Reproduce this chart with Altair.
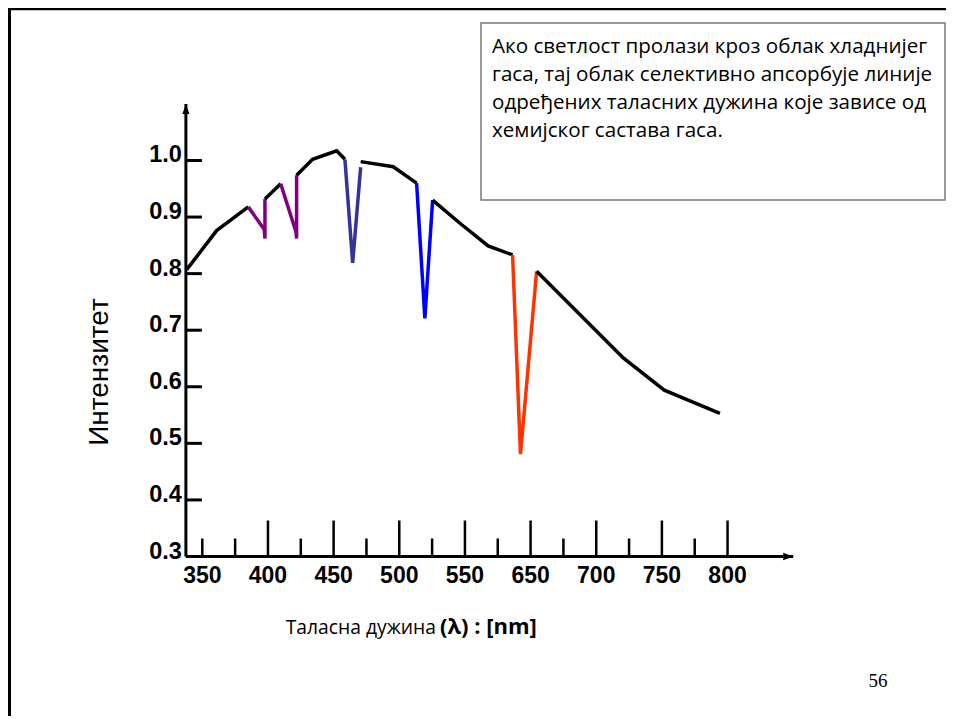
import altair as alt
import pandas as pd

# ---------------- data ----------------
# spectrum, split into drawn pieces (continuum in black, absorption lines coloured)
segment_names = ["cont1", "viol1", "cont2", "viol2", "cont3", "indigo",
                 "cont4", "blue", "cont5", "red", "cont6"]
segment_bands = ["continuum", "violet", "continuum", "violet", "continuum", "indigo",
                 "continuum", "blue", "continuum", "red", "continuum"]
segment_wavelengths = [
    [338.1, 360.9, 385.0],
    [385.0, 397.2, 397.7, 397.7],
    [397.7, 409.7],
    [409.7, 421.3, 421.8, 421.8],
    [421.8, 434.0, 452.3, 458.6],
    [458.6, 464.5, 470.6],
    [470.6, 495.4, 513.2],
    [513.2, 519.5, 525.4],
    [525.4, 546.2, 567.7, 586.3],
    [586.3, 592.3, 604.6],
    [604.6, 670.6, 701.8, 744.2],
]
segment_intensities = [
    [0.807, 0.876, 0.918],
    [0.918, 0.878, 0.862, 0.932],
    [0.932, 0.959],
    [0.959, 0.874, 0.862, 0.974],
    [0.974, 1.002, 1.017, 1.002],
    [1.002, 0.819, 0.988],
    [0.998, 0.989, 0.960],
    [0.960, 0.721, 0.930],
    [0.930, 0.889, 0.849, 0.833],
    [0.833, 0.481, 0.804],
    [0.804, 0.651, 0.594, 0.553],
]

x_major_ticks = [400, 450, 500, 550, 600, 650, 700, 750]
x_minor_ticks = [350, 375, 425, 475, 525, 575, 625, 675, 725]
x_label_pos = [350, 400, 450, 500, 550, 600, 650, 700, 750]
x_label_text = ["350", "400", "450", "500", "550", "650", "700", "750", "800"]

y_tick_values = [0.3, 0.4, 0.5, 0.6, 0.7, 0.8, 0.9, 1.0]
y_tick_labels = ["0.3", "0.4", "0.5", "0.6", "0.7", "0.8", "0.9", "1.0"]

y_title = "Интензитет"
x_title_regular = "Таласна дужина"
x_title_bold = "(λ) : [nm]"
note_lines = [
    "Ако светлост пролази кроз облак хладнијег",
    "гаса, тај облак селективно апсорбује линије",
    "одређених таласних дужина које зависе од",
    "хемијског састава гаса.",
]
page_number = "56"

# ---------------- layout ----------------
W, H = 938, 708
X_MIN, X_MAX = 337.5, 800.0
Y_MIN, Y_MAX = 0.3, 1.1
XR = [177.9, 785.2]
YR = [548.5, 95.9]

band_colors = {"continuum": "#000000", "violet": "#800080", "indigo": "#333399",
               "blue": "#0000ff", "red": "#ff3300"}

rows = []
i = 0
for name, band, wls, ints in zip(segment_names, segment_bands,
                                 segment_wavelengths, segment_intensities):
    for w, v in zip(wls, ints):
        rows.append({"wl": w, "I": v, "seg": name, "band": band, "idx": i})
        i += 1
spec = pd.DataFrame(rows)

xs = alt.Scale(domain=[X_MIN, X_MAX], range=XR, nice=False, zero=False)
ys = alt.Scale(domain=[Y_MIN, Y_MAX], range=YR, nice=False, zero=False)
one = pd.DataFrame({"a": [0]})

# decorations: slide border + note box
border_top = alt.Chart(one).mark_rule(color="black", strokeWidth=2.5).encode(
    x=alt.value(0), x2=alt.value(W), y=alt.value(1))
border_left = alt.Chart(one).mark_rule(color="black", strokeWidth=3).encode(
    x=alt.value(1.5), y=alt.value(0), y2=alt.value(H))
note_box = alt.Chart(one).mark_rect(fill="white", stroke="#7a7a7a", strokeWidth=1.5).encode(
    x=alt.value(473), x2=alt.value(937), y=alt.value(15), y2=alt.value(192))
note_text = alt.Chart(pd.DataFrame({"t": ["\n".join(note_lines)]})).mark_text(
    align="left", baseline="alphabetic", font="Open Sans", fontSize=20.6,
    lineBreak="\n", lineHeight=28, color="black").encode(
    x=alt.value(484), y=alt.value(45), text="t:N")

# axes
axes_df = pd.DataFrame({"x0": [X_MIN], "x1": [X_MAX], "y0": [Y_MIN], "y1": [Y_MAX]})
x_axis = alt.Chart(axes_df).mark_rule(color="black", strokeWidth=3).encode(
    x=alt.X("x0:Q", scale=xs, axis=None), x2="x1:Q",
    y=alt.Y("y0:Q", scale=ys, axis=None))
y_axis = alt.Chart(axes_df).mark_rule(color="black", strokeWidth=3).encode(
    x=alt.X("x0:Q", scale=xs, axis=None),
    y=alt.Y("y0:Q", scale=ys, axis=None), y2="y1:Q")
arrow_up = alt.Chart(axes_df).mark_point(
    shape="M0,0 L0.7,2 L-0.7,2 Z", filled=True, size=100, color="black", opacity=1).encode(
    x=alt.X("x0:Q", scale=xs, axis=None), y=alt.Y("y1:Q", scale=ys, axis=None))
arrow_right = alt.Chart(axes_df).mark_point(
    shape="M0,0 L-2,-0.75 L-2,0.75 Z", filled=True, size=100, color="black", opacity=1).encode(
    x=alt.X("x1:Q", scale=xs, axis=None), y=alt.Y("y0:Q", scale=ys, axis=None))

major = alt.Chart(pd.DataFrame({"p": x_major_ticks})).mark_rule(color="black", strokeWidth=2.5).encode(
    x=alt.X("p:Q", scale=xs, axis=None), y=alt.value(YR[0]), y2=alt.value(YR[0] - 36))
minor = alt.Chart(pd.DataFrame({"p": x_minor_ticks})).mark_rule(color="black", strokeWidth=2.5).encode(
    x=alt.X("p:Q", scale=xs, axis=None), y=alt.value(YR[0]), y2=alt.value(YR[0] - 18))
x_labels = alt.Chart(pd.DataFrame({"p": x_label_pos, "t": x_label_text})).mark_text(
    font="Liberation Sans", fontWeight="bold", fontSize=23, align="center",
    baseline="alphabetic", color="black").encode(
    x=alt.X("p:Q", scale=xs, axis=None), y=alt.value(575), text="t:N")

y_ticks = alt.Chart(pd.DataFrame({"v": y_tick_values})).mark_rule(color="black", strokeWidth=3).encode(
    y=alt.Y("v:Q", scale=ys, axis=None), x=alt.value(XR[0]), x2=alt.value(XR[0] + 16))
y_labels = alt.Chart(pd.DataFrame({"v": y_tick_values, "t": y_tick_labels})).mark_text(
    font="Liberation Sans", fontWeight="bold", fontSize=23.5, align="right",
    baseline="alphabetic", dy=2, color="black").encode(
    y=alt.Y("v:Q", scale=ys, axis=None), x=alt.value(XR[0] - 4), text="t:N")

# titles
y_title_mark = alt.Chart(one).mark_text(
    font="Liberation Sans", fontSize=28, angle=270, align="center", baseline="middle",
    color="black").encode(x=alt.value(92), y=alt.value(364), text=alt.value(y_title))
x_title_a = alt.Chart(one).mark_text(
    font="Open Sans", fontSize=19.3, align="right", baseline="alphabetic", color="black").encode(
    x=alt.value(428), y=alt.value(626), text=alt.value(x_title_regular))
x_title_b = alt.Chart(one).mark_text(
    font="Open Sans", fontSize=22, fontWeight="bold", align="left", baseline="alphabetic",
    color="black").encode(
    x=alt.value(432), y=alt.value(626), text=alt.value(x_title_bold))
page_no = alt.Chart(one).mark_text(
    font="Liberation Serif", fontSize=19, align="center", baseline="alphabetic",
    color="black").encode(x=alt.value(870), y=alt.value(679), text=alt.value(page_number))

# spectrum
curve = alt.Chart(spec).mark_line(strokeWidth=3.5, strokeJoin="miter").encode(
    x=alt.X("wl:Q", scale=xs, axis=None),
    y=alt.Y("I:Q", scale=ys, axis=None),
    detail="seg:N",
    order=alt.Order("idx:Q"),
    color=alt.Color("band:N", legend=None,
                    scale=alt.Scale(domain=list(band_colors.keys()),
                                    range=list(band_colors.values()))),
)

chart = alt.layer(
    border_top, border_left, note_box, note_text,
    major, minor, y_ticks, x_axis, y_axis, arrow_up, arrow_right,
    x_labels, y_labels, y_title_mark, x_title_a, x_title_b, page_no, curve,
).properties(
    width=W, height=H, padding=0,
    autosize=alt.AutoSizeParams(type="none"),
    background="white",
).configure_view(stroke="transparent")

chart.save("out.html", embed_options={"renderer": "svg", "actions": False})
